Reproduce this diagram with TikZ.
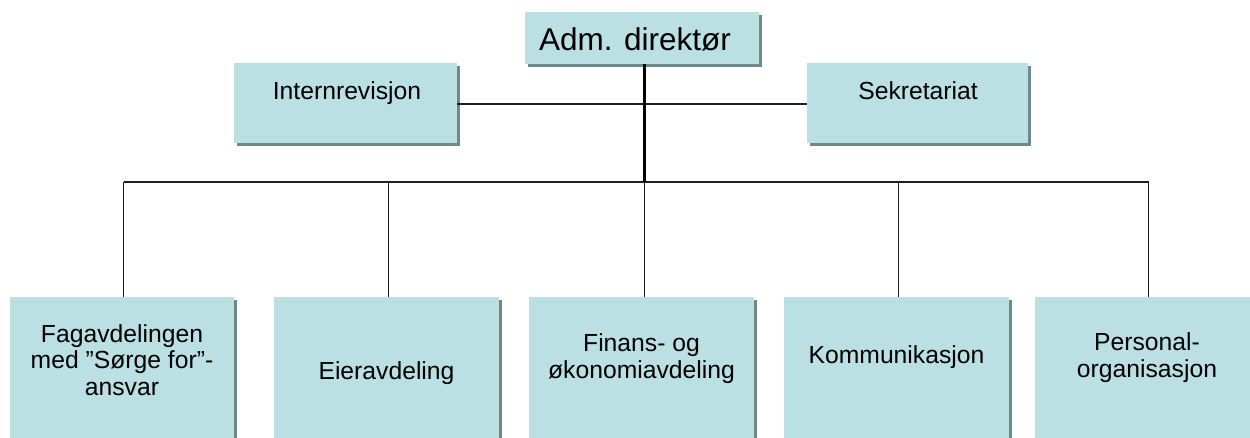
\documentclass[tikz,border=0pt]{standalone}
\usepackage{fontspec}
\setmainfont{Liberation Sans}
\usetikzlibrary{shadows}
\definecolor{boxfill}{RGB}{187,224,227}
\definecolor{boxshadow}{RGB}{110,136,140}
\definecolor{lineclr}{RGB}{30,30,30}
\begin{document}
\begin{tikzpicture}[x=1pt,y=-1pt,
  box/.style={rectangle, fill=boxfill, inner sep=0pt, outer sep=0pt,
    drop shadow={shadow xshift=3pt, shadow yshift=-3pt, fill=boxshadow, opacity=1}},
  lbl/.style={anchor=base, inner sep=0pt, align=center, font=\fontsize{24.7}{26.5}\selectfont},
  biglbl/.style={anchor=base, inner sep=0pt, font=\fontsize{31.5}{34}\selectfont},
  conn/.style={draw=lineclr, line width=1.3pt},
  dropconn/.style={draw=lineclr, line width=1.2pt},
  mainconn/.style={draw=black, line width=2.4pt}]
\useasboundingbox (0,0) rectangle (1250,437);
\clip (0,0) rectangle (1250,437);
\fill[white] (0,0) rectangle (1250,437);

% top boxes
\node[box, minimum width=234pt, minimum height=52pt] (adm) at (642,38) {};
\node[box, minimum width=223pt, minimum height=80pt] (intern) at (345.5,103) {};
\node[box, minimum width=221pt, minimum height=80pt] (sekr) at (917.5,103) {};

% bottom boxes
\node[box, minimum width=224pt, minimum height=160pt] (b1) at (122,377) {};
\node[box, minimum width=225pt, minimum height=160pt] (b2) at (386.5,377) {};
\node[box, minimum width=225pt, minimum height=160pt] (b3) at (641.5,377) {};
\node[box, minimum width=225pt, minimum height=160pt] (b4) at (896.5,377) {};
\node[box, minimum width=225pt, minimum height=160pt] (b5) at (1147,377) {};

% texts (base = baseline of the last line)
\node[biglbl] (tadm) at (635,50) {Adm. direktør};
\node[lbl] (tintern) at (347,99) {Internrevisjon};
\node[lbl] (tsekr) at (918,99) {Sekretariat};
\node[lbl] (t1) at (122,395) {Fagavdelingen\\med ”Sørge for”-\\ansvar};
\node[lbl] (t2) at (386.5,379) {Eieravdeling};
\node[lbl] (t3) at (641.5,378) {Finans- og\\økonomiavdeling};
\node[lbl] (t4) at (896.5,363) {Kommunikasjon};
\node[lbl] (t5) at (1147,377) {Personal-\\organisasjon};

% connectors
\coordinate (hub) at (644,104);
\coordinate (bar) at (644.5,182);
\coordinate (d1) at (123.5,182);
\coordinate (d2) at (388.5,182);
\coordinate (d3) at (644.5,182);
\coordinate (d4) at (898.5,182);
\coordinate (d5) at (1148.5,182);
\draw[conn] (intern.east |- hub) -- (sekr.west |- hub);
\draw[conn] (d1) -- (d5);
\draw[mainconn] (adm.south -| bar) -- (bar);
\foreach \i in {1,...,5} {\draw[dropconn] (d\i) -- (b\i.north -| d\i);}
\end{tikzpicture}
\end{document}
